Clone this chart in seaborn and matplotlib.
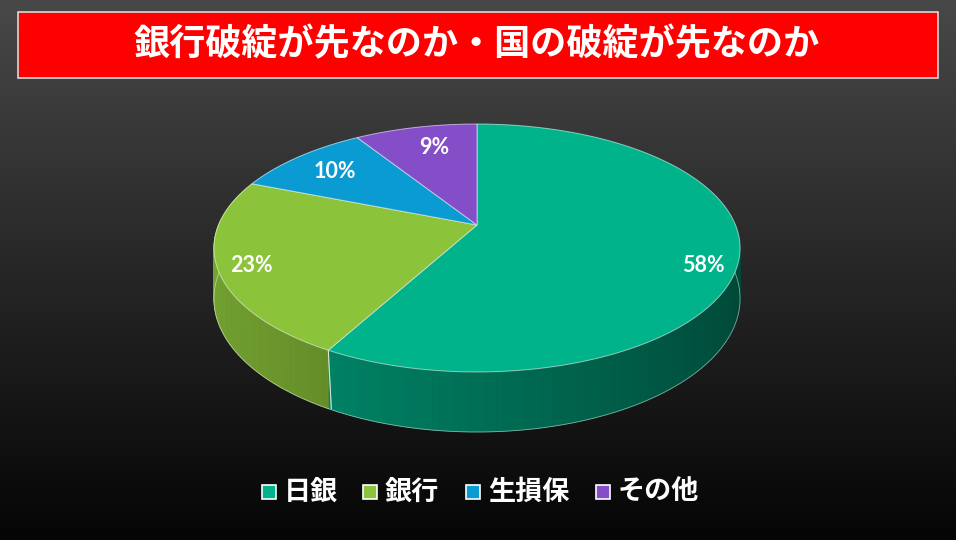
import numpy as np
import matplotlib
matplotlib.use("Agg")
import matplotlib.pyplot as plt
import seaborn as sns
from matplotlib.patches import Polygon, Rectangle
import matplotlib.colors as mcolors

sns.set_theme(style="dark")
plt.rcParams['font.family'] = ['Noto Sans CJK JP', 'DejaVu Sans']

# ---- data ----
title = "銀行破綻が先なのか・国の破綻が先なのか"
categories = ["日銀", "銀行", "生損保", "その他"]
values = [58, 23, 10, 9]
labels = ["58%", "23%", "10%", "9%"]
colors = ["#00B38A", "#8BC33A", "#0A9BD2", "#844EC8"]

W, H = 956, 540
fig = plt.figure(figsize=(W / 100, H / 100), dpi=100)
ax = fig.add_axes([0, 0, 1, 1])
ax.set_xlim(0, W)
ax.set_ylim(H, 0)
ax.axis("off")

# background gradient
grad = np.linspace(72, 5, 256)[:, None] / 255.0
ax.imshow(np.dstack([grad, grad, grad]), extent=[0, W, H, 0], aspect="auto", zorder=0)

# title box
ax.add_patch(Rectangle((18, 12), 920, 66, facecolor="#FF0000", edgecolor="#D8D8D8", lw=1.2, zorder=5))
ax.text(477, 45, title, color="white", fontsize=26, fontweight="bold",
        ha="center", va="center", zorder=6)

# perspective pie geometry
cx, cy = 477, 225
c = 0.1855
b = 119.7
a = 258.5
t = 48.9


def proj(theta, depth=0.0):
    x, y = np.cos(theta), np.sin(theta)
    d = 1 + c * y
    return cx + a * x / d, cy - b * y / d + depth * t / d


total = sum(values)
fracs = np.array(values) / total
starts = np.pi / 2 - 2 * np.pi * np.concatenate([[0], np.cumsum(fracs)[:-1]])
ends = starts - 2 * np.pi * fracs


def shade(col, theta):
    r, g, bb = mcolors.to_rgb(col)
    f = 0.62 - 0.22 * np.cos(theta)
    return (r * f, g * f, bb * f)


# side faces
for s, e, col in zip(starts, ends, colors):
    ths = np.linspace(s, e, max(int(abs(s - e) / 0.02), 4))
    for t0, t1 in zip(ths[:-1], ths[1:]):
        pts = [proj(t0), proj(t1), proj(t1, 1), proj(t0, 1)]
        tm = 0.5 * (t0 + t1)
        ax.add_patch(Polygon(pts, closed=True, facecolor=shade(col, tm),
                             edgecolor=shade(col, tm), lw=0.6, zorder=2))
    bot = [proj(th, 1) for th in ths]
    bx, by = zip(*bot)
    ax.plot(bx, by, color="white", alpha=0.5, lw=0.6, zorder=3)
    for th in (s, e):
        p0, p1 = proj(th), proj(th, 1)
        if np.sin(th) < 0:
            ax.plot([p0[0], p1[0] + 3], [p0[1], p1[1]], color="white", alpha=0.6, lw=0.7, zorder=3)

# top faces
for s, e, col in zip(starts, ends, colors):
    ths = np.linspace(s, e, 200)
    pts = [(cx, cy)] + [proj(th) for th in ths]
    ax.add_patch(Polygon(pts, closed=True, facecolor=col, edgecolor=(1, 1, 1, 0.55),
                         lw=0.7, zorder=4))

# labels
label_xy = [(703, 266), (251, 266), (335, 172), (434, 148)]
for (lx, ly), lab in zip(label_xy, labels):
    ax.text(lx, ly, lab, color="white", fontsize=15.5, fontweight="bold",
            family=["Lato", "DejaVu Sans"], ha="center", va="center", zorder=7)

# legend
leg_x = [262, 363, 466, 596]
for x0, cat, col in zip(leg_x, categories, colors):
    ax.add_patch(Rectangle((x0, 485), 14, 14, facecolor=col, edgecolor="white", lw=1.2, zorder=6))
    ax.text(x0 + 22, 492, cat, color="white", fontsize=19.5, fontweight="bold",
            ha="left", va="center", zorder=6)

fig.savefig("out.png", dpi=100)
